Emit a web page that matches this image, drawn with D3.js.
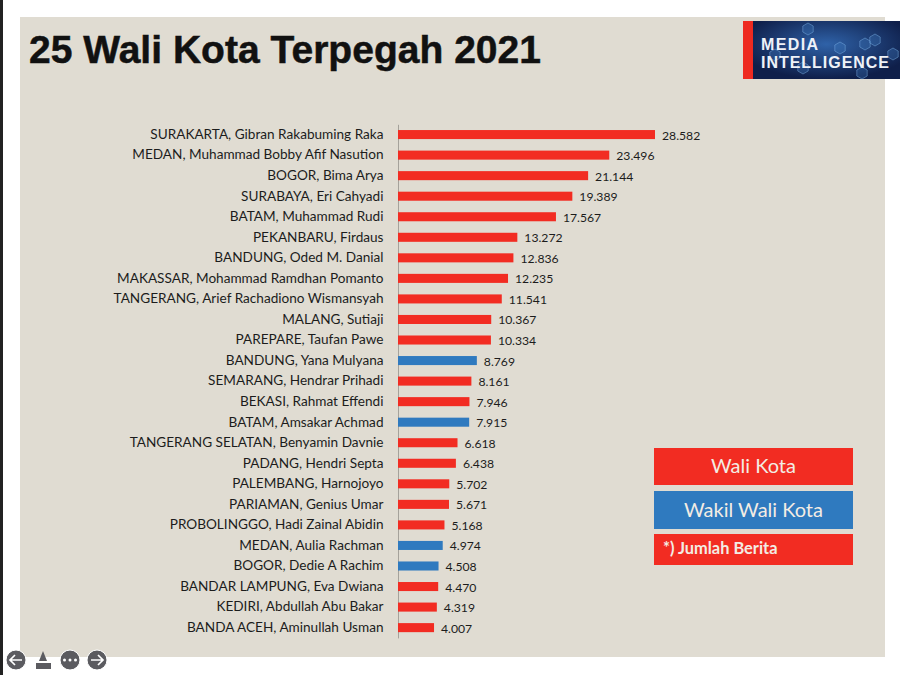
<!DOCTYPE html>
<html lang="id">
<head>
<meta charset="utf-8">
<title>25 Wali Kota Terpegah 2021</title>
<script src="https://cdn.jsdelivr.net/npm/d3@7"></script>
<style>
	html, body {margin:0; padding:0; background:#fff;}
	svg {display:block;}
	text {font-family:Lato, "Open Sans", sans-serif;}
</style>
</head>
<body>
<svg id="chart" width="900" height="675"></svg>
<script>
var names = [
	"SURAKARTA, Gibran Rakabuming Raka",
	"MEDAN, Muhammad Bobby Afif Nasution",
	"BOGOR, Bima Arya",
	"SURABAYA, Eri Cahyadi",
	"BATAM, Muhammad Rudi",
	"PEKANBARU, Firdaus",
	"BANDUNG, Oded M. Danial",
	"MAKASSAR, Mohammad Ramdhan Pomanto",
	"TANGERANG, Arief Rachadiono Wismansyah",
	"MALANG, Sutiaji",
	"PAREPARE, Taufan Pawe",
	"BANDUNG, Yana Mulyana",
	"SEMARANG, Hendrar Prihadi",
	"BEKASI, Rahmat Effendi",
	"BATAM, Amsakar Achmad",
	"TANGERANG SELATAN, Benyamin Davnie",
	"PADANG, Hendri Septa",
	"PALEMBANG, Harnojoyo",
	"PARIAMAN, Genius Umar",
	"PROBOLINGGO, Hadi Zainal Abidin",
	"MEDAN, Aulia Rachman",
	"BOGOR, Dedie A Rachim",
	"BANDAR LAMPUNG, Eva Dwiana",
	"KEDIRI, Abdullah Abu Bakar",
	"BANDA ACEH, Aminullah Usman"
];
var values = [28582, 23496, 21144, 19389, 17567, 13272, 12836, 12235, 11541, 10367, 10334, 8769, 8161, 7946, 7915, 6618, 6438, 5702, 5671, 5168, 4974, 4508, 4470, 4319, 4007];
// 1 = wakil wali kota
var wakil = [0,0,0,0,0,0,0,0,0,0,0,1,0,0,1,0,0,0,0,0,1,1,0,0,0];
var legendItems = ["Wali Kota", "Wakil Wali Kota", "*) Jumlah Berita"];

var RED = "#f22c22", BLUE = "#2f7abf", PANEL = "#e0dcd2";
var svg = d3.select("#chart");
var defs = svg.append("defs");

// page furniture
svg.append("rect").attr("x",0).attr("y",0).attr("width",3).attr("height",675).attr("fill","#222");
svg.append("rect").attr("x",20).attr("y",17).attr("width",865).attr("height",640).attr("fill",PANEL);

svg.append("text").attr("x",29).attr("y",63)
	.attr("font-size",39).attr("font-weight",700).attr("fill","#111")
	.attr("stroke","#111").attr("stroke-width",0.5)
	.attr("textLength",512).attr("lengthAdjust","spacing")
	.style("font-family","'Liberation Sans', Arial, sans-serif")
	.text("25 Wali Kota Terpegah 2021");

// logo
var grad = defs.append("radialGradient").attr("id","logoBg")
	.attr("cx","50%").attr("cy","40%").attr("r","60%");
grad.append("stop").attr("offset","0%").attr("stop-color","#2f62a8");
grad.append("stop").attr("offset","100%").attr("stop-color","#0f1f4a");
defs.append("filter").attr("id","soft").append("feGaussianBlur").attr("stdDeviation",0.7);
svg.append("rect").attr("x",743).attr("y",21).attr("width",11).attr("height",58).attr("fill","#ee2a20");
svg.append("rect").attr("x",753).attr("y",21).attr("width",147).attr("height",58).attr("fill","url(#logoBg)");
var hexes = [[808,29],[840,48],[865,44],[875,40],[803,68],[862,73],[893,54],[775,55]];
svg.selectAll(".hex").data(hexes).join("path").attr("class","hex")
	.attr("transform",function(d){return "translate("+d[0]+","+d[1]+")";})
	.attr("d",d3.line()(d3.range(7).map(function(i){
		var a = Math.PI/3*i+Math.PI/6;
		return [6*Math.cos(a),6*Math.sin(a)];
	})))
	.attr("filter","url(#soft)")
	.attr("fill","#3f7fc4").attr("fill-opacity",0.3).attr("stroke","#7fb4e6").attr("stroke-opacity",0.45);
var logoText = svg.append("text")
	.attr("font-size",16).attr("font-weight",700).attr("fill","#eef2f8")
	.style("font-family","'Liberation Sans', Arial, sans-serif");
logoText.append("tspan").attr("x",761).attr("y",49.5).attr("textLength",57).text("MEDIA");
logoText.append("tspan").attr("x",761).attr("y",67.5).attr("textLength",128).text("INTELLIGENCE");

// chart
var x = d3.scaleLinear().domain([0, 28582]).range([398, 655]);
var y = d3.scaleBand().domain(names).range([124.3, 637.9]).paddingInner(0.56).paddingOuter(0.28);
var fmt = function(v){ return d3.format(",")(v).replace(",", "."); };

var yAxis = d3.axisLeft(y).tickSize(0).tickPadding(14.5);
var axisG = svg.append("g").attr("transform","translate(398,0)").call(yAxis);
axisG.select(".domain").attr("stroke","#a5a29b").attr("stroke-width",1);
axisG.selectAll("text").attr("font-size",13.6).attr("fill","#1c1c1c").style("font-family","Lato, sans-serif");

svg.selectAll(".bar").data(names).join("rect").attr("class","bar")
	.attr("x",x(0)).attr("y",function(d){return y(d);})
	.attr("height",y.bandwidth())
	.attr("width",function(d,i){return x(values[i])-x(0);})
	.attr("fill",function(d,i){return wakil[i] ? BLUE : RED;});

svg.selectAll(".val").data(names).join("text").attr("class","val")
	.attr("x",function(d,i){return x(values[i])+7;})
	.attr("y",function(d){return y(d)+y.bandwidth()/2+5;})
	.attr("font-size",12.2).attr("fill","#1c1c1c")
	.text(function(d,i){return fmt(values[i]);});

// legend
var legY = [448, 491, 534], legH = [37, 38, 31], legFill = [RED, BLUE, RED];
svg.selectAll(".legbox").data(legendItems).join("rect").attr("class","legbox")
	.attr("x",654).attr("width",199)
	.attr("y",function(d,i){return legY[i];})
	.attr("height",function(d,i){return legH[i];})
	.attr("fill",function(d,i){return legFill[i];});
svg.selectAll(".legtext").data(legendItems).join("text").attr("class","legtext")
	.attr("x",function(d,i){return i==2 ? 663 : 753.5;})
	.attr("y",function(d,i){return [473,517,554][i];})
	.attr("text-anchor",function(d,i){return i==2 ? "start" : "middle";})
	.attr("font-size",function(d,i){return i==2 ? 16.4 : 20;})
	.attr("font-weight",function(d,i){return i==2 ? 700 : 400;})
	.attr("fill","#f3ece4")
	.text(function(d){return d;});

// slideshow controls
var GREY = "#5b5b60";
[16, 70, 97].forEach(function(cx){
	svg.append("circle").attr("cx",cx).attr("cy",660).attr("r",10).attr("fill",GREY)
		.attr("stroke","#fff").attr("stroke-width",1);
});
var ctrl = svg.append("g").attr("fill","none").attr("stroke","#fff").attr("stroke-width",1.7);
ctrl.append("path").attr("d","M22 660H10M15 655l-5 5 5 5");
ctrl.append("path").attr("d","M91 660H103M98 655l5 5-5 5");
[64.5, 70, 75.5].forEach(function(cx){
	svg.append("circle").attr("cx",cx).attr("cy",660).attr("r",1.5).attr("fill","#fff");
});
svg.append("path").attr("d","M43 651L47 661H39Z").attr("fill",GREY);
svg.append("rect").attr("x",36).attr("y",663).attr("width",15).attr("height",6).attr("fill",GREY);
</script>
</body>
</html>
